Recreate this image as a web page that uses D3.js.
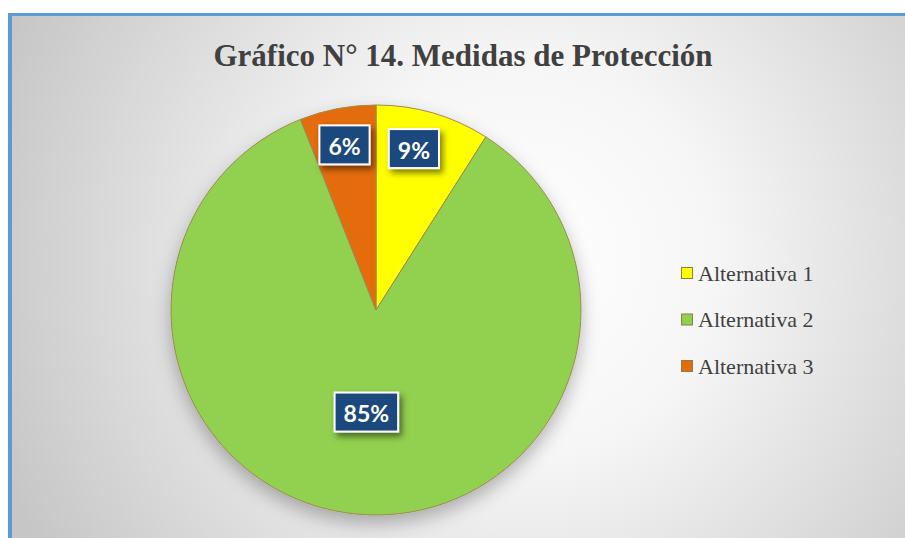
<!DOCTYPE html>
<html>
<head>
<meta charset="utf-8">
<script src="https://cdn.jsdelivr.net/npm/d3@7"></script>
<style>
  html, body { margin: 0; padding: 0; background: #ffffff; }
  svg { display: block; }
</style>
</head>
<body>
<svg id="chart" width="905" height="538"></svg>
<script>
// ---- data ----
const categories = ["Alternativa 1", "Alternativa 2", "Alternativa 3"];
const values = [9, 85, 6];
const labels = ["9%", "85%", "6%"];
const colors = ["#FFFF00", "#92D050", "#E46C0A"];
const titleText = "Gráfico N° 14. Medidas de Protección";

const W = 905, H = 538;
const svg = d3.select("#chart");
const defs = svg.append("defs");

// background gradient
const grad = defs.append("radialGradient")
  .attr("id", "bg").attr("gradientUnits", "userSpaceOnUse")
  .attr("cx", 520).attr("cy", 260).attr("r", 560);
grad.append("stop").attr("offset", "0%").attr("stop-color", "#ffffff");
grad.append("stop").attr("offset", "35%").attr("stop-color", "#f6f6f6");
grad.append("stop").attr("offset", "100%").attr("stop-color", "#c6c6c6");

const pieShadow = defs.append("filter").attr("id", "pieShadow")
  .attr("x", "-20%").attr("y", "-20%").attr("width", "140%").attr("height", "150%");
pieShadow.append("feDropShadow").attr("dx", 0).attr("dy", 8)
  .attr("stdDeviation", 9).attr("flood-color", "#000").attr("flood-opacity", 0.28);

const boxShadow = defs.append("filter").attr("id", "boxShadow")
  .attr("x", "-30%").attr("y", "-30%").attr("width", "170%").attr("height", "180%");
boxShadow.append("feDropShadow").attr("dx", 3).attr("dy", 4)
  .attr("stdDeviation", 3).attr("flood-color", "#000").attr("flood-opacity", 0.5);

// frame
svg.append("rect").attr("x", 8).attr("y", 13).attr("width", W).attr("height", H)
  .attr("fill", "#5B9BD5");
svg.append("rect").attr("x", 12).attr("y", 16).attr("width", W).attr("height", H)
  .attr("fill", "url(#bg)");

// title
svg.append("text")
  .attr("x", 463).attr("y", 66)
  .attr("text-anchor", "middle")
  .attr("font-family", "'Liberation Serif', 'Times New Roman', serif")
  .attr("font-weight", "bold")
  .attr("font-size", 31)
  .attr("fill", "#404040")
  .text(titleText);

// pie
const cx = 376, cy = 310, R = 205;
const pie = d3.pie().sort(null).value(d => d)(values);
const arc = d3.arc().innerRadius(0).outerRadius(R);
const g = svg.append("g").attr("transform", `translate(${cx},${cy})`);

const slices = g.append("g").attr("filter", "url(#pieShadow)");
slices.selectAll("path").data(pie).join("path")
  .attr("d", arc)
  .attr("fill", (d, i) => colors[i])
  .attr("stroke", "#9C8A4F")
  .attr("stroke-width", 1);

// labels
const labelRadiusFactor = values.map(v => v > 50 ? 0.5 : 0.82);
const labelNudgeX = [-9, 0, 0];
const lab = g.selectAll("g.lab").data(pie).join("g").attr("class", "lab")
  .attr("transform", (d, i) => {
    const a = d3.arc().innerRadius(R * labelRadiusFactor[i]).outerRadius(R * labelRadiusFactor[i]);
    const [x, y] = a.centroid(d);
    return `translate(${x + labelNudgeX[i]},${y})`;
  });
lab.each(function(d, i) {
  const sel = d3.select(this);
  const t = sel.append("text")
    .attr("text-anchor", "middle")
    .attr("dominant-baseline", "central")
    .attr("font-family", "Lato, 'Open Sans', sans-serif")
    .attr("font-weight", "bold")
    .attr("font-size", 23)
    .attr("fill", "#ffffff")
    .attr("y", 1)
    .text(labels[i]);
  const bb = t.node().getBBox();
  const w = bb.width + 18, h = 39;
  sel.insert("rect", "text")
    .attr("x", -w / 2).attr("y", -h / 2)
    .attr("width", w).attr("height", h)
    .attr("fill", "#1F497D")
    .attr("stroke", "#ffffff")
    .attr("stroke-width", 2)
    .attr("filter", "url(#boxShadow)");
});

// legend
const legend = svg.append("g").attr("transform", "translate(681,273)");
const rows = legend.selectAll("g").data(categories).join("g")
  .attr("transform", (d, i) => `translate(0,${i * 46.5})`);
rows.append("rect")
  .attr("x", 0.5).attr("y", -5.5).attr("width", 11).attr("height", 11)
  .attr("fill", (d, i) => colors[i])
  .attr("stroke", "#8C7E45").attr("stroke-width", 1);
rows.append("text")
  .attr("x", 17).attr("y", 0)
  .attr("dominant-baseline", "central")
  .attr("font-family", "'Liberation Serif', 'Times New Roman', serif")
  .attr("font-size", 22)
  .attr("fill", "#404040")
  .text(d => d);
</script>
</body>
</html>
